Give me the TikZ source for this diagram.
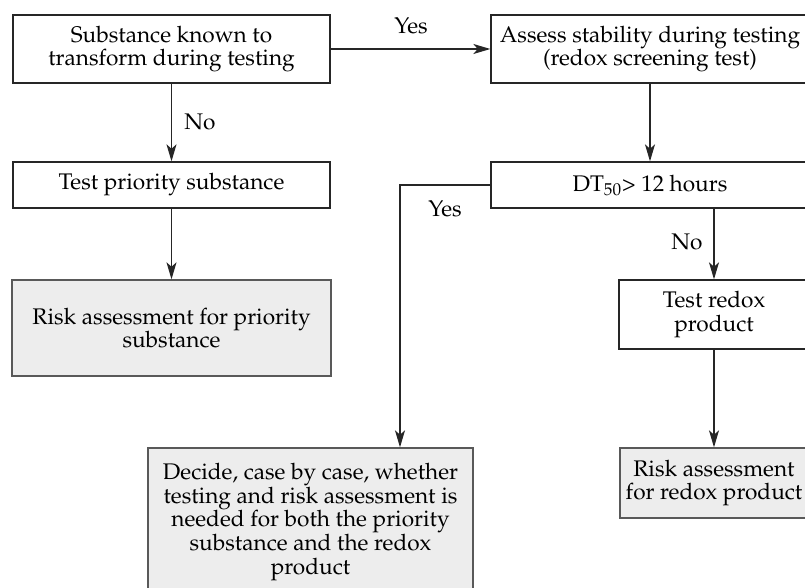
\documentclass[tikz,border=0pt]{standalone}
\usepackage[T1]{fontenc}
\usepackage{mathpazo}
\usetikzlibrary{arrows.meta}
\begin{document}
\begin{tikzpicture}[x=0.5pt,y=-0.5pt,
  box/.style={draw=black!85,line width=0.65pt,align=center,inner sep=0pt,
    font=\fontsize{11.3}{11.9}\selectfont},
  gbox/.style={box,draw=black!65,fill=black!7},
  lbl/.style={font=\fontsize{11.3}{11.9}\selectfont,inner sep=0pt},
  arr/.style={draw=black!85,line width=0.65pt,-{Stealth[length=8.5pt,width=5pt,inset=2.2pt]}},
  ln/.style={draw=black!85,line width=0.65pt}]
\useasboundingbox (0,0) rectangle (805,588);
\clip (0,0) rectangle (805,588);
\node[box,minimum width=158.5pt,minimum height=34pt] (b1) at (171.5,49) {Substance known to\\transform during testing};
\node[box,minimum width=158.5pt,minimum height=23pt] (b2) at (171.5,185) {Test priority substance};
\node[gbox,minimum width=159.5pt,minimum height=48pt] (b3) at (171.5,328) {Risk assessment for priority\\substance};
\node[box,minimum width=159pt,minimum height=34pt] (b4) at (650,49) {Assess stability during testing\\(redox screening test)};
\node[box,minimum width=159pt,minimum height=23pt] (b5) at (650,185) {DT$_{50}$> 12 hours};
\node[box,minimum width=95pt,minimum height=34.5pt] (b6) at (714,314.5) {Test redox\\product};
\node[gbox,minimum width=94pt,minimum height=35pt] (b7) at (714,483) {Risk assessment\\for redox product};
\node[gbox,minimum width=162.5pt,minimum height=74pt] (b8) at (310.5,522) {Decide, case by case, whether\\testing and risk assessment is\\needed for both the priority\\substance and the redox\\product};
\coordinate (c1) at (400,185);
\draw[arr] (b1.east) -- (b4.west);
\draw[arr] (b1.south) -- (b2.north);
\draw[arr] (b2.south) -- (b3.north);
\draw[arr] (b4.south) -- (b5.north);
\draw[arr] (b5.west) -- (c1) -- (c1 |- b8.north);
\draw[arr] (b5.south -| b6.north) -- (b6.north);
\draw[arr] (b6.south) -- (b7.north);
\node[lbl] (l1) at (411,26) {Yes};
\node[lbl] (l2) at (200,122) {No};
\node[lbl] (l3) at (445,209) {Yes};
\node[lbl] (l4) at (687,242) {No};
\end{tikzpicture}
\end{document}
